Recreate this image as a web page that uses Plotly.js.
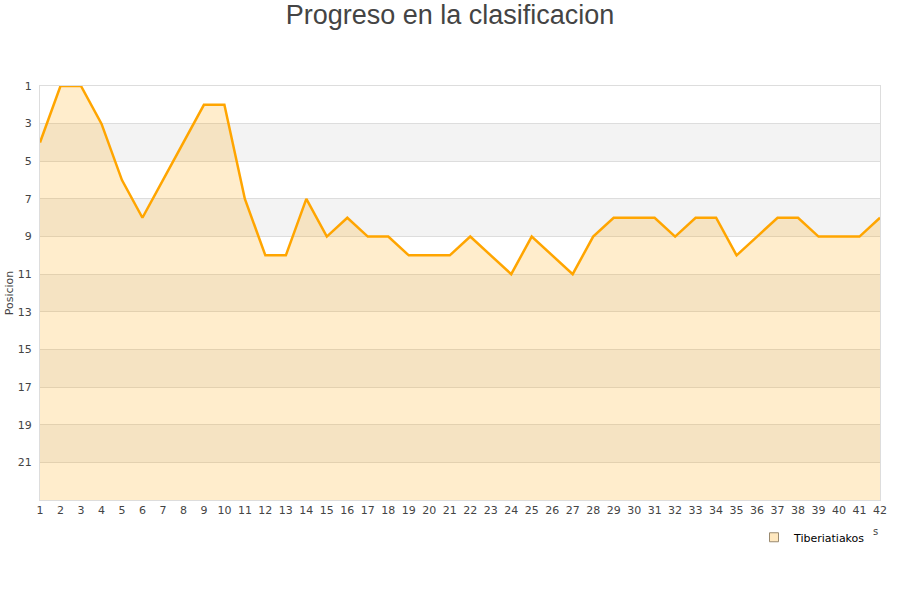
<!DOCTYPE html>
<html>
<head>
<meta charset="utf-8">
<script src="https://cdn.plot.ly/plotly-3.0.1.min.js"></script>
<style>html,body{margin:0;padding:0;background:#fff;}#chart{width:900px;height:600px;}</style>
</head>
<body>
<div id="chart"></div>
<script>
const jornadas = [1,2,3,4,5,6,7,8,9,10,11,12,13,14,15,16,17,18,19,20,21,22,23,24,25,26,27,28,29,30,31,32,33,34,35,36,37,38,39,40,41,42];
const posiciones = [4,1,1,3,6,8,6,4,2,2,7,10,10,7,9,8,9,9,10,10,10,9,10,11,9,10,11,9,8,8,8,9,8,8,10,9,8,8,9,9,9,8];
const equipo = "Tiberiatiakos";
const yTicks = [1,3,5,7,9,11,13,15,17,19,21];
const bandStarts = [3,7,11,15,19];
const ultimaPosicion = 23;

const baseline = jornadas.map(() => ultimaPosicion);

const shapes = bandStarts.map(s => ({
  type: 'rect', xref: 'paper', yref: 'y', x0: 0, x1: 1, y0: s, y1: s + 2,
  fillcolor: '#f3f3f3', line: {width: 0}, layer: 'below'
}));

const traces = [
  {x: jornadas, y: baseline, mode: 'lines', line: {width: 0, color: 'rgba(0,0,0,0)'}, showlegend: false, hoverinfo: 'skip'},
  {x: jornadas, y: posiciones, mode: 'lines', fill: 'tonexty', fillcolor: 'rgba(255,165,0,0.2)',
   line: {color: '#ffa500', width: 2.5}, showlegend: false, name: equipo},
  {x: [null], y: [null], mode: 'markers', name: equipo,
   marker: {symbol: 'square', size: 9, color: 'rgba(255,165,0,0.25)', line: {color: '#9a8a70', width: 1}}}
];

const layout = {
  width: 900, height: 600,
  margin: {l: 40, r: 20, t: 86, b: 100},
  paper_bgcolor: '#fff', plot_bgcolor: '#fff',
  font: {family: 'DejaVu Sans', color: '#444', size: 11},
  title: {text: 'Progreso en la clasificacion', x: 0.5, xanchor: 'center', y: 0.992, yanchor: 'top',
          font: {family: 'Liberation Sans', size: 27, color: '#444'}},
  xaxis: {range: [1, 42], tickmode: 'array', tickvals: jornadas, ticktext: jornadas.map(String),
          showgrid: false, zeroline: false, showline: true, mirror: true, linecolor: '#dddddd', linewidth: 1,
          ticks: '', tickfont: {size: 11, color: '#444'}, fixedrange: true},
  yaxis: {range: [ultimaPosicion, 1], tickmode: 'array', tickvals: yTicks, ticktext: yTicks.map(String),
          showgrid: true, gridcolor: '#dddddd', gridwidth: 1, zeroline: false, showline: true, mirror: true,
          linecolor: '#dddddd', linewidth: 1, ticks: '', ticklabelstandoff: 5, tickfont: {size: 11, color: '#444'},
          title: {text: 'Posicion', font: {size: 11, color: '#444'}, standoff: 1}, fixedrange: true},
  shapes: shapes,
  annotations: [{text: 's', xref: 'paper', yref: 'paper', x: (875 - 40) / 840, y: (500 - 531) / 414,
                 xanchor: 'center', yanchor: 'middle', showarrow: false, font: {size: 10, color: '#444'}}],
  showlegend: true,
  legend: {x: 0.85, xanchor: 'left', y: -0.09, yanchor: 'middle', bgcolor: 'rgba(255,255,255,0)',
           font: {size: 11, color: '#000'}, itemwidth: 30}
};

Plotly.newPlot('chart', traces, layout, {displayModeBar: false, staticPlot: true});
</script>
</body>
</html>
